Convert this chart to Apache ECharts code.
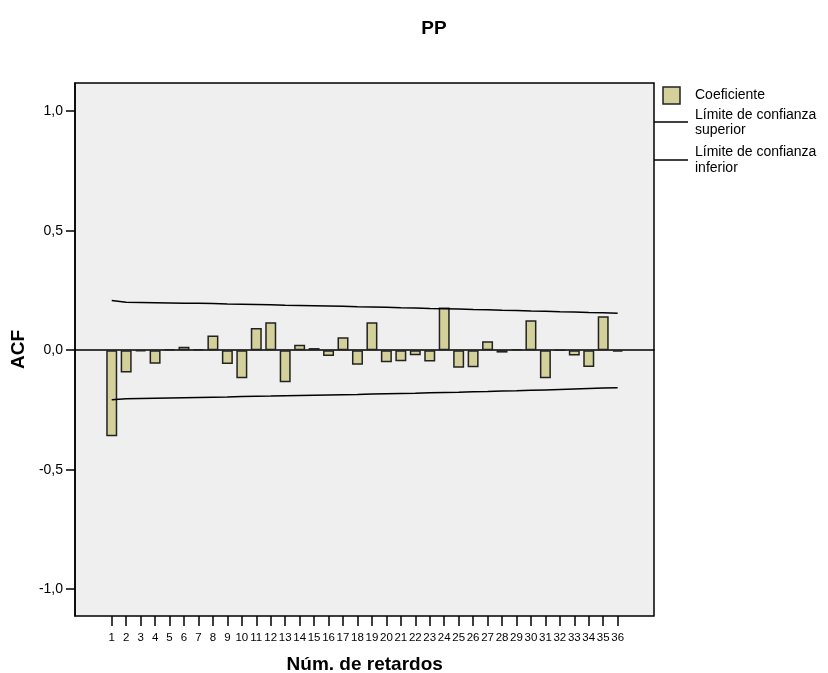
<!DOCTYPE html>
<html>
<head>
<meta charset="utf-8">
<script src="https://cdn.jsdelivr.net/npm/echarts@6/dist/echarts.min.js"></script>
<style>html,body{margin:0;padding:0;background:#fff}#c{width:828px;height:673px}</style>
</head>
<body>
<div id="c"></div>
<script>
const lags = ['1','2','3','4','5','6','7','8','9','10','11','12','13','14','15','16','17','18','19','20','21','22','23','24','25','26','27','28','29','30','31','32','33','34','35','36'];
const coeficiente = [-0.360,-0.093,-0.005,-0.057,0.004,0.015,0.004,0.062,-0.058,-0.117,0.093,0.117,-0.134,0.023,0.009,-0.024,0.054,-0.061,0.117,-0.050,-0.046,-0.021,-0.047,0.179,-0.073,-0.071,0.037,-0.010,0.004,0.125,-0.117,0.000,-0.022,-0.070,0.142,-0.006];
const limiteSuperior = [0.208,0.201,0.200,0.199,0.198,0.197,0.196,0.195,0.193,0.192,0.191,0.190,0.188,0.187,0.186,0.185,0.184,0.182,0.181,0.180,0.178,0.177,0.175,0.174,0.172,0.170,0.169,0.167,0.166,0.164,0.163,0.161,0.160,0.158,0.157,0.155];
const limiteInferior = [-0.207,-0.203,-0.202,-0.201,-0.200,-0.199,-0.198,-0.197,-0.196,-0.194,-0.193,-0.192,-0.190,-0.189,-0.188,-0.187,-0.186,-0.185,-0.183,-0.182,-0.181,-0.180,-0.178,-0.177,-0.176,-0.174,-0.173,-0.171,-0.170,-0.168,-0.166,-0.164,-0.162,-0.160,-0.158,-0.157];
const yTicks = [-1,-0.5,0,0.5,1];

const FONT = 'Liberation Sans, Arial, sans-serif';
const BAR = '#d4d09a';
const Y_MIN = -1.112, Y_MAX = 1.118;

const chart = echarts.init(document.getElementById('c'), null, {renderer:'canvas'});
chart.setOption({
  animation: false,
  textStyle: {fontFamily: FONT},
  title: {
    text: 'PP', left: 429, top: 14, textAlign: 'center',
    textStyle: {fontFamily: FONT, fontWeight: 'bold', fontSize: 19, color: '#000'}
  },
  grid: [
    {left: 75, top: 83, right: 174, bottom: 57, show: true, backgroundColor: '#efefef', borderColor: '#000', borderWidth: 1.5, containLabel: false, outerBoundsMode: 'none'},
    {left: 104.5, top: 83, right: 203.1, bottom: 57, show: false, containLabel: false, outerBoundsMode: 'none'}
  ],
  xAxis: [
    {gridIndex: 0, type: 'value', min: 0, max: 1, axisLine: {show: true, onZero: true, lineStyle: {color: '#000', width: 1.5}},
     axisTick: {show: false}, axisLabel: {show: false}, splitLine: {show: false}},
    {gridIndex: 1, type: 'category', data: lags, boundaryGap: true,
     axisLine: {show: false, onZero: false},
     axisTick: {show: true, inside: false, alignWithLabel: true, length: 10, interval: 0, lineStyle: {color: '#000', width: 1.5}},
     axisLabel: {interval: 0, fontSize: 11.5, color: '#000', margin: 16, fontFamily: FONT},
     name: 'Núm. de retardos', nameLocation: 'middle', nameGap: 39,
     nameTextStyle: {fontFamily: FONT, fontWeight: 'bold', fontSize: 19, color: '#000'}}
  ],
  yAxis: [
    {gridIndex: 0, type: 'value', min: Y_MIN, max: Y_MAX,
     axisLine: {show: true, lineStyle: {color: '#000', width: 1.5}},
     axisTick: {show: true, length: 9, customValues: yTicks, lineStyle: {color: '#000', width: 1.5}},
     axisLabel: {customValues: yTicks, fontSize: 14, color: '#000', margin: 12, fontFamily: FONT,
                 formatter: v => v.toFixed(1).replace('.', ',')},
     splitLine: {show: false},
     name: 'ACF', nameLocation: 'middle', nameGap: 47, nameRotate: 90,
     nameTextStyle: {fontFamily: FONT, fontWeight: 'bold', fontSize: 19, color: '#000'}},
    {gridIndex: 1, type: 'value', min: Y_MIN, max: Y_MAX, show: false}
  ],
  series: [
    {name: 'Coeficiente', type: 'bar', xAxisIndex: 1, yAxisIndex: 1, data: coeficiente, barWidth: 11,
     itemStyle: {color: BAR, borderColor: '#222', borderWidth: 1.5}},
    {name: 'Límite de confianza superior', type: 'line', xAxisIndex: 1, yAxisIndex: 1, data: limiteSuperior,
     symbol: 'none', lineStyle: {color: '#000', width: 1.5}, z: 3},
    {name: 'Límite de confianza inferior', type: 'line', xAxisIndex: 1, yAxisIndex: 1, data: limiteInferior,
     symbol: 'none', lineStyle: {color: '#000', width: 1.5}, z: 3}
  ],
  graphic: [
    {type: 'rect', shape: {x: 663, y: 87, width: 17, height: 17}, style: {fill: BAR, stroke: '#222', lineWidth: 1.5}},
    {type: 'text', x: 695, y: 95, style: {text: 'Coeficiente', font: '14px ' + FONT, fill: '#000', verticalAlign: 'middle'}},
    {type: 'line', shape: {x1: 654, y1: 122, x2: 688, y2: 122}, style: {stroke: '#000', lineWidth: 1.5}},
    {type: 'text', x: 695, y: 115, style: {text: 'Límite de confianza', font: '14px ' + FONT, fill: '#000', verticalAlign: 'middle'}},
    {type: 'text', x: 695, y: 130, style: {text: 'superior', font: '14px ' + FONT, fill: '#000', verticalAlign: 'middle'}},
    {type: 'line', shape: {x1: 654, y1: 160, x2: 688, y2: 160}, style: {stroke: '#000', lineWidth: 1.5}},
    {type: 'text', x: 695, y: 152, style: {text: 'Límite de confianza', font: '14px ' + FONT, fill: '#000', verticalAlign: 'middle'}},
    {type: 'text', x: 695, y: 168, style: {text: 'inferior', font: '14px ' + FONT, fill: '#000', verticalAlign: 'middle'}}
  ]
});
</script>
</body>
</html>
